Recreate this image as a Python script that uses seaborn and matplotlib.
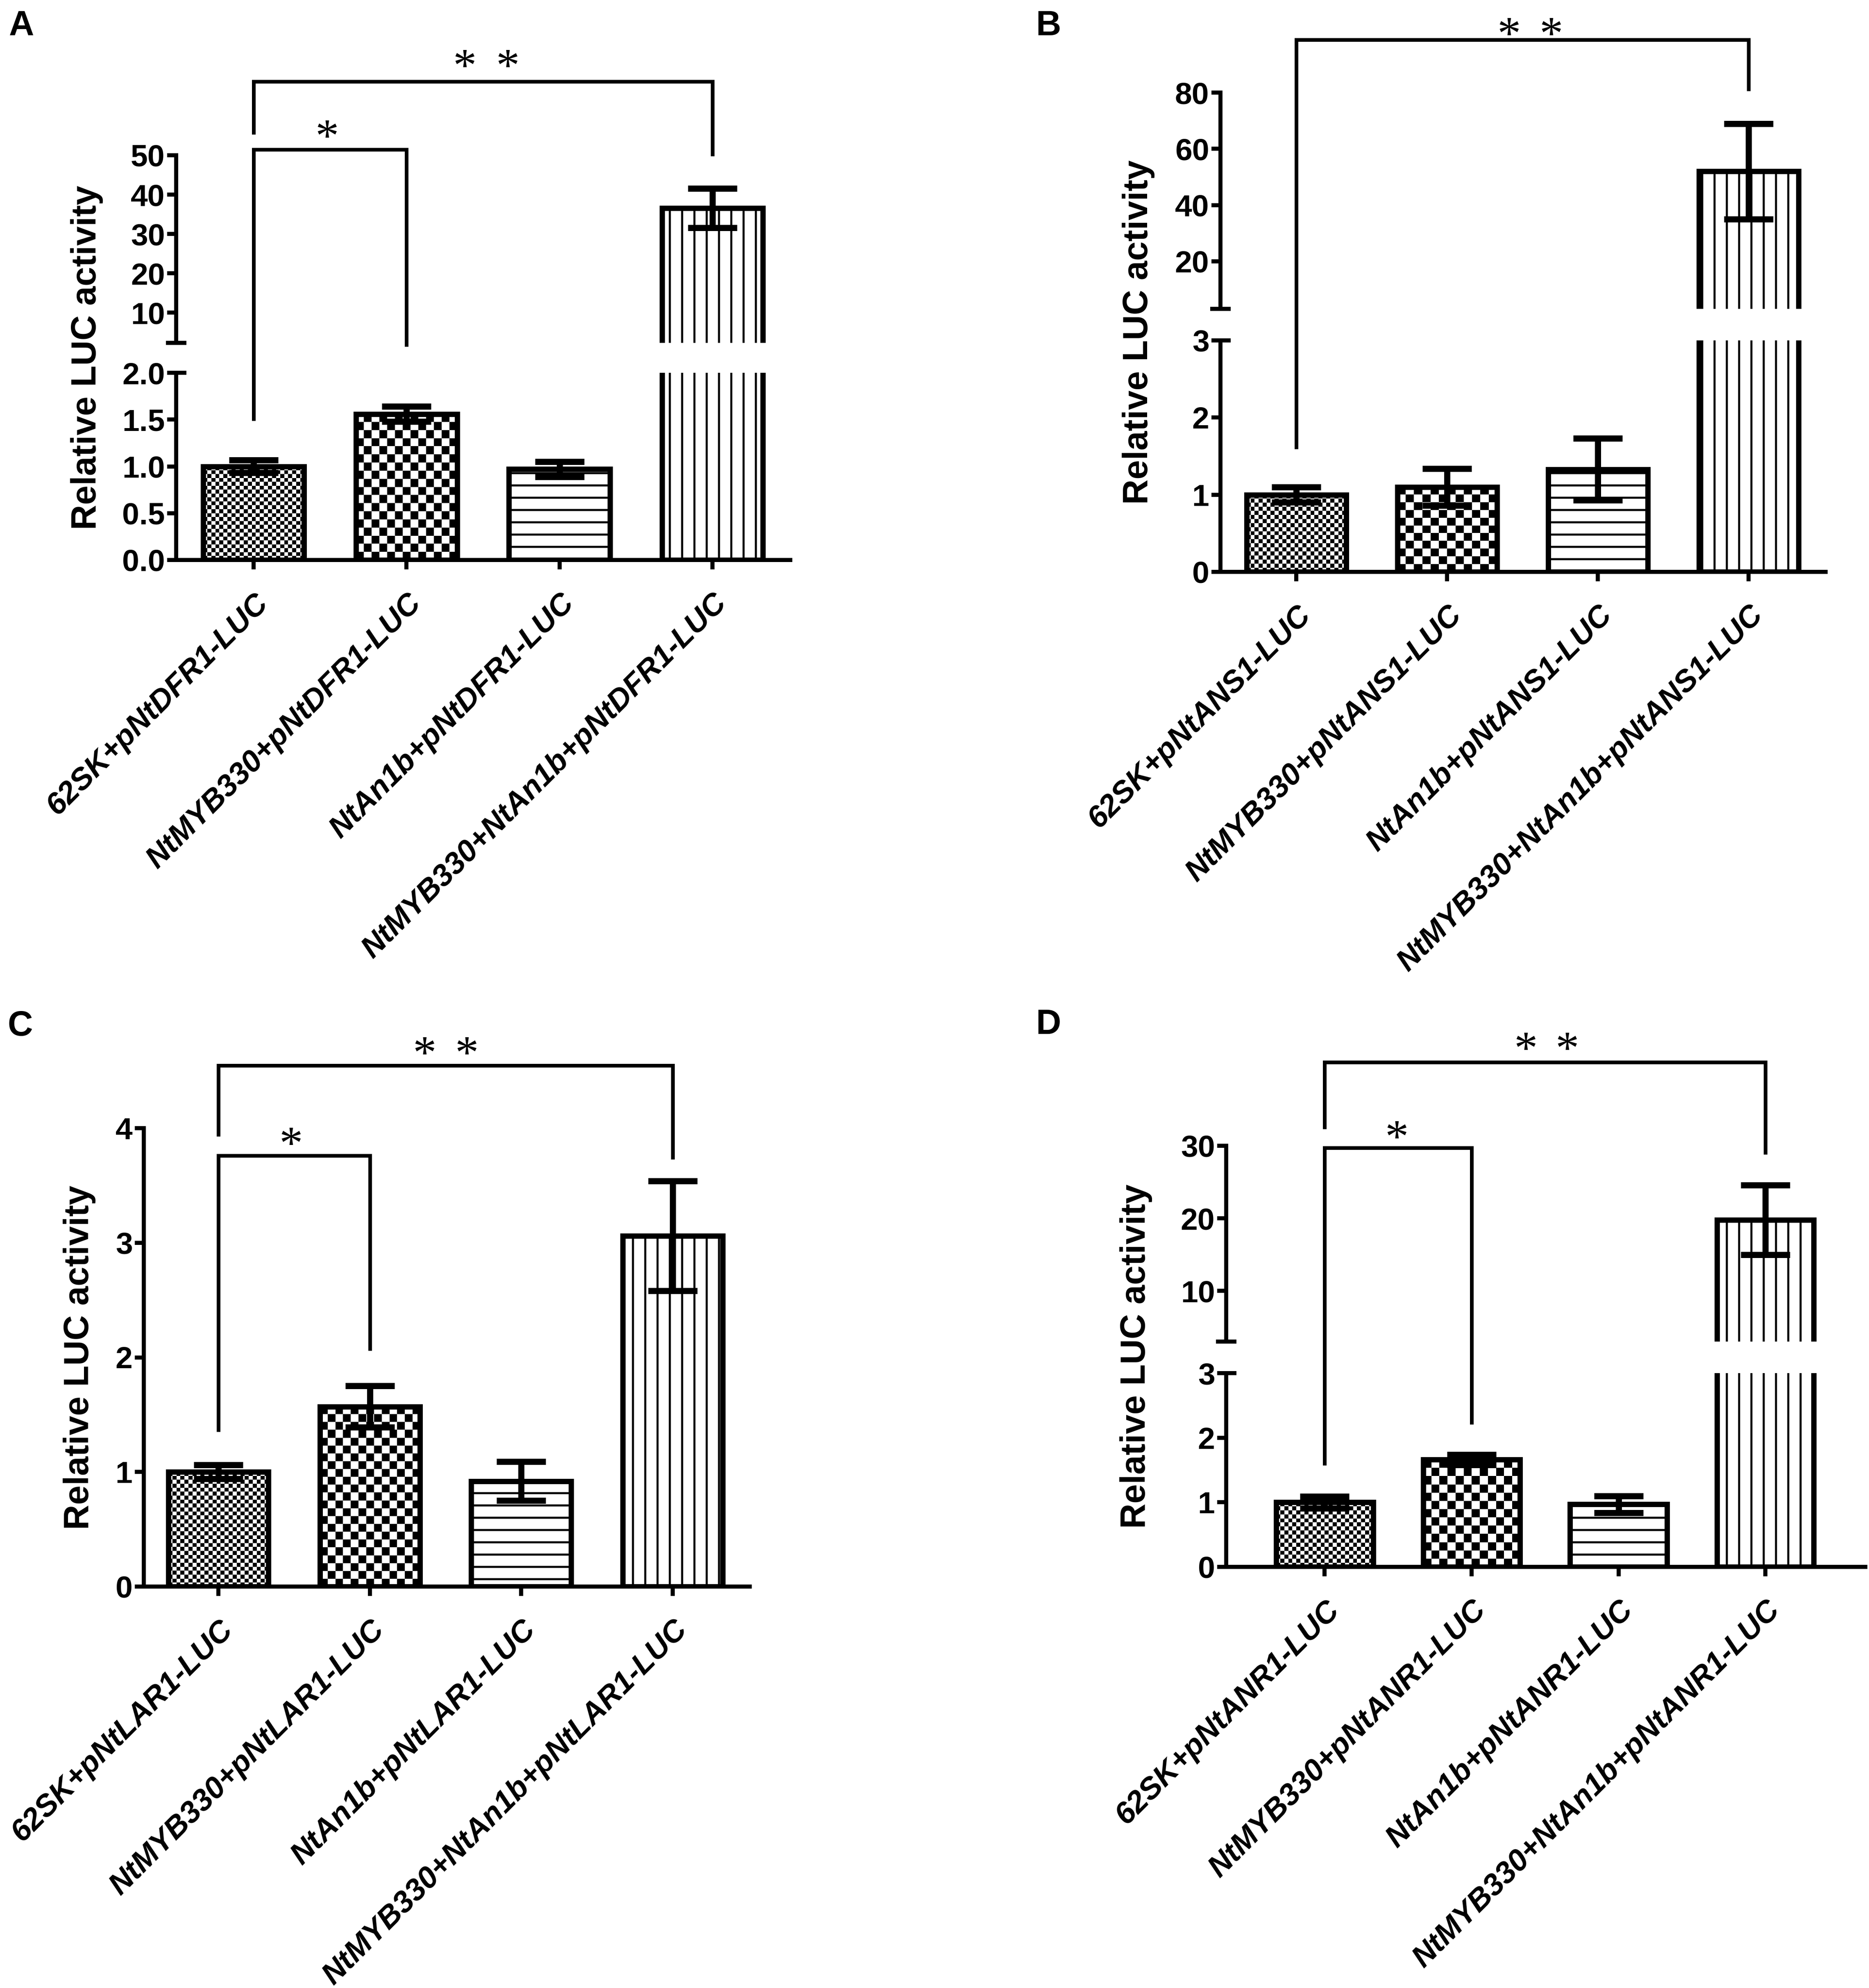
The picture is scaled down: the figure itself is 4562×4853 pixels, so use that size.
import numpy as np
import pandas as pd
import matplotlib
matplotlib.use("Agg")
import matplotlib.pyplot as plt
import seaborn as sns
from matplotlib.lines import Line2D
from matplotlib import font_manager

# ---------------- data ----------------
cats_A = ["62SK+pNtDFR1-LUC", "NtMYB330+pNtDFR1-LUC", "NtAn1b+pNtDFR1-LUC", "NtMYB330+NtAn1b+pNtDFR1-LUC"]
cats_B = ["62SK+pNtANS1-LUC", "NtMYB330+pNtANS1-LUC", "NtAn1b+pNtANS1-LUC", "NtMYB330+NtAn1b+pNtANS1-LUC"]
cats_C = ["62SK+pNtLAR1-LUC", "NtMYB330+pNtLAR1-LUC", "NtAn1b+pNtLAR1-LUC", "NtMYB330+NtAn1b+pNtLAR1-LUC"]
cats_D = ["62SK+pNtANR1-LUC", "NtMYB330+pNtANR1-LUC", "NtAn1b+pNtANR1-LUC", "NtMYB330+NtAn1b+pNtANR1-LUC"]

mean_A = [1.00, 1.56, 0.97, 36.6]
err_A = [0.07, 0.08, 0.08, 5.0]
mean_B = [1.00, 1.10, 1.33, 52.0]
err_B = [0.10, 0.24, 0.40, 17.0]
mean_C = [1.00, 1.57, 0.92, 3.06]
err_C = [0.06, 0.18, 0.17, 0.48]
mean_D = [1.00, 1.66, 0.97, 19.8]
err_D = [0.09, 0.08, 0.13, 4.8]

# y-axis ticks (lower segment / upper segment)
ticks_A_lo = [0.0, 0.5, 1.0, 1.5, 2.0]
ticklab_A_lo = ["0.0", "0.5", "1.0", "1.5", "2.0"]
ticks_A_up = [10, 20, 30, 40, 50]
ticks_B_lo = [0, 1, 2, 3]
ticks_B_up = [20, 40, 60, 80]
ticks_C = [0, 1, 2, 3, 4]
ticks_D_lo = [0, 1, 2, 3]
ticks_D_up = [10, 20, 30]

# significance brackets: (x1, x2, top, left_end, right_end)
brk_A = [(0, 3, 68.75, 55.3, 49.8), (0, 1, 51.46, 1.486, 2.28)]
brk_B = [(0, 3, 98.8, 1.593, 80.6)]
brk_C = [(0, 3, 4.547, 3.93, 3.73), (0, 1, 3.76, 1.35, 2.06)]
brk_D = [(0, 3, 41.5, 32.3, 28.8), (0, 1, 29.7, 1.57, 2.21)]
# star annotations: (x centre, y centre, number of stars)
star_A = [(1.52, 74.6, 2), (0.48, 56.7, 1)]
star_B = [(1.55, 103.4, 2)]
star_C = [(1.50, 4.72, 2), (0.48, 3.93, 1)]
star_D = [(1.51, 44.4, 2), (0.49, 32.2, 1)]

# ---------------- style ----------------
sns.set_theme(style="ticks")
plt.rcParams["font.family"] = ["Liberation Sans", "DejaVu Sans"]
plt.rcParams.update({
    "axes.edgecolor": "black", "xtick.color": "black", "ytick.color": "black",
    "text.color": "black", "axes.labelcolor": "black", "hatch.linewidth": 2.0,
    "hatch.color": "black",
})
names = {f.name for f in font_manager.fontManager.ttflist}
NARROW = ["Liberation Sans Narrow", "Liberation Sans"] if "Liberation Sans Narrow" in names else ["Liberation Sans"]

DPI = 180
W, H = 4562, 4853
BAR_W = 0.66
BAR_LW = 5.2
SP_LW = 4.0
ERR_LW = 6.0
CAP = 24
BRK_LW = 3.6
YT_FS = 30
XT_FS = 30
YL_FS = 34
LET_FS = 34
STAR_FS = 46
PATTERNS = ["fine", "coarse", "-", "|"]

fig = plt.figure(figsize=(W / DPI, H / DPI), dpi=DPI)
fig.patch.set_facecolor("white")


def add_ax(box):
    l, t, r, b = box
    return fig.add_axes([l / W, 1 - b / H, (r - l) / W, (b - t) / H])


def checker(ax, p, cell):
    x0, w, h = p.get_x(), p.get_width(), p.get_height()
    px0, py0 = ax.transData.transform((x0, 0))
    px1, py1 = ax.transData.transform((x0 + w, h))
    nx = max(1, int(round(abs(px1 - px0) / cell)))
    ny = max(1, int(round(abs(py1 - py0) / cell)))
    arr = np.indices((ny, nx)).sum(axis=0) % 2
    im = ax.imshow(arr, cmap="gray", vmin=0, vmax=1, extent=(x0, x0 + w, 0, h),
                   origin="lower", interpolation="nearest", aspect="auto", zorder=1.5)
    im.set_clip_path(p)


def draw_bars(ax, cats, means, errs, xlim, ylim, textures=True):
    df = pd.DataFrame({"cond": cats, "val": means})
    sns.barplot(data=df, x="cond", y="val", order=cats, ax=ax, width=BAR_W,
                color="white", saturation=1, edgecolor="black", linewidth=BAR_LW,
                errorbar=None, zorder=2)
    ax.set_xlim(xlim)
    ax.set_ylim(ylim)
    patches = list(ax.patches)[:len(cats)]
    for p, pat in zip(patches, PATTERNS):
        p.set_facecolor("white")
        if pat in ("fine", "coarse"):
            if textures:
                checker(ax, p, 9.7 if pat == "fine" else 19.5)
                p.set_facecolor("none")
        else:
            p.set_hatch(pat)
    xs = [p.get_x() + p.get_width() / 2 for p in patches]
    # error bars only for bars whose top lies inside this axis segment
    sel = [i for i, m in enumerate(means) if ylim[0] <= m <= ylim[1]]
    ax.errorbar([xs[i] for i in sel], [means[i] for i in sel], yerr=[errs[i] for i in sel],
                fmt="none", ecolor="black", elinewidth=ERR_LW,
                capsize=CAP, capthick=ERR_LW, zorder=4)
    ax.set_xlim(xlim)
    ax.set_ylim(ylim)
    ax.set_xlabel("")
    ax.set_ylabel("")
    for s in ["top", "right"]:
        ax.spines[s].set_visible(False)
    for s in ["left", "bottom"]:
        ax.spines[s].set_linewidth(SP_LW)
    ax.tick_params(axis="both", direction="out", length=9, width=SP_LW)
    ax.tick_params(axis="y", pad=2)
    return xs


def set_yt(ax, ticks, labels=None):
    if labels is None:
        labels = [str(t) for t in ticks]
    ax.set_yticks(ticks, labels=labels, fontsize=YT_FS, fontweight="bold", family=NARROW)


def set_xt(ax, cats):
    ax.set_xticks(range(len(cats)))
    ax.set_xticklabels(cats, rotation=45, ha="right", va="top", rotation_mode="anchor",
                       fontsize=XT_FS, fontweight="bold", fontstyle="italic")
    ax.tick_params(axis="x", pad=19)


def panel(cats, means, errs, box_lo, box_up, xlim, ylim_lo, ylim_up, t_lo, tl_lo, t_up,
          brks, stars, ylab_x, letter, letter_xy):
    ax_lo = add_ax(box_lo)
    draw_bars(ax_lo, cats, means, errs, xlim, ylim_lo)
    set_yt(ax_lo, t_lo, tl_lo)
    set_xt(ax_lo, cats)
    ax_up = None
    if box_up is not None:
        ax_up = add_ax(box_up)
        draw_bars(ax_up, cats, means, errs, xlim, ylim_up, textures=False)
        set_yt(ax_up, t_up)
        ax_up.spines["bottom"].set_visible(False)
        ax_up.tick_params(axis="x", bottom=False, labelbottom=False)
        wpx = box_up[2] - box_up[0]
        d = 25.0 / wpx
        ax_up.plot([-d, d], [ylim_up[0]] * 2, transform=ax_up.get_yaxis_transform(),
                   color="black", lw=SP_LW, clip_on=False, solid_capstyle="butt", zorder=5)
        ax_lo.plot([0, d], [ylim_lo[1]] * 2, transform=ax_lo.get_yaxis_transform(),
                   color="black", lw=SP_LW, clip_on=False, solid_capstyle="butt", zorder=5)

    def to_px(x, v):
        ax = ax_up if (ax_up is not None and v >= ylim_up[0]) else ax_lo
        return ax.transData.transform((x, v))

    for x1, x2, top, le, re in brks:
        pts = [to_px(x1, le), to_px(x1, top), to_px(x2, top), to_px(x2, re)]
        xs = [p[0] / W for p in pts]
        ys = [p[1] / H for p in pts]
        fig.add_artist(Line2D(xs, ys, transform=fig.transFigure, color="black", lw=BRK_LW,
                              solid_joinstyle="miter", solid_capstyle="butt"))
    em = STAR_FS * DPI / 72.0
    for xc, yc, n in stars:
        offs = [0.0] if n == 1 else [-0.14, 0.14]
        for o in offs:
            px, py = to_px(xc + o, yc)
            fig.text(px / W, (py - 0.47 * em) / H, "*", ha="center", va="baseline",
                     fontsize=STAR_FS, family=["Liberation Serif", "DejaVu Serif"])
    # y label
    top_px = (box_up if box_up is not None else box_lo)[1]
    bot_px = box_lo[3]
    fig.text(ylab_x / W, 1 - (top_px + bot_px) / 2 / H, "Relative LUC activity",
             rotation=90, ha="center", va="center", fontsize=YL_FS, fontweight="bold")
    fig.text(letter_xy[0] / W, 1 - letter_xy[1] / H, letter, ha="left", va="top",
             fontsize=LET_FS, fontweight="bold")


panel(cats_A, mean_A, err_A, (430, 910, 1929, 1367), (430, 379, 1929, 837),
      (-0.507, 3.51), (0, 2.0), (2.3, 50), ticks_A_lo, ticklab_A_lo, ticks_A_up,
      brk_A, star_A, 212, "A", (22, 24))
panel(cats_B, mean_B, err_B, (2979, 831, 4456, 1396), (2979, 226, 4456, 754),
      (-0.503, 3.51), (0, 3), (3.1, 80), ticks_B_lo, None, ticks_B_up,
      brk_B, star_B, 2779, "B", (2528, 24))
panel(cats_C, mean_C, err_C, (351, 2754, 1830, 3873), None,
      (-0.492, 3.508), (0, 4), None, ticks_C, None, None,
      brk_C, star_C, 194, "C", (18, 2466))
panel(cats_D, mean_D, err_D, (2993, 3352, 4553, 3825), (2993, 2797, 4553, 3275),
      (-0.67, 3.68), (0, 3), (3, 30), ticks_D_lo, None, ticks_D_up,
      brk_D, star_D, 2773, "D", (2528, 2462))

fig.savefig("out.png", dpi=DPI, facecolor="white")
